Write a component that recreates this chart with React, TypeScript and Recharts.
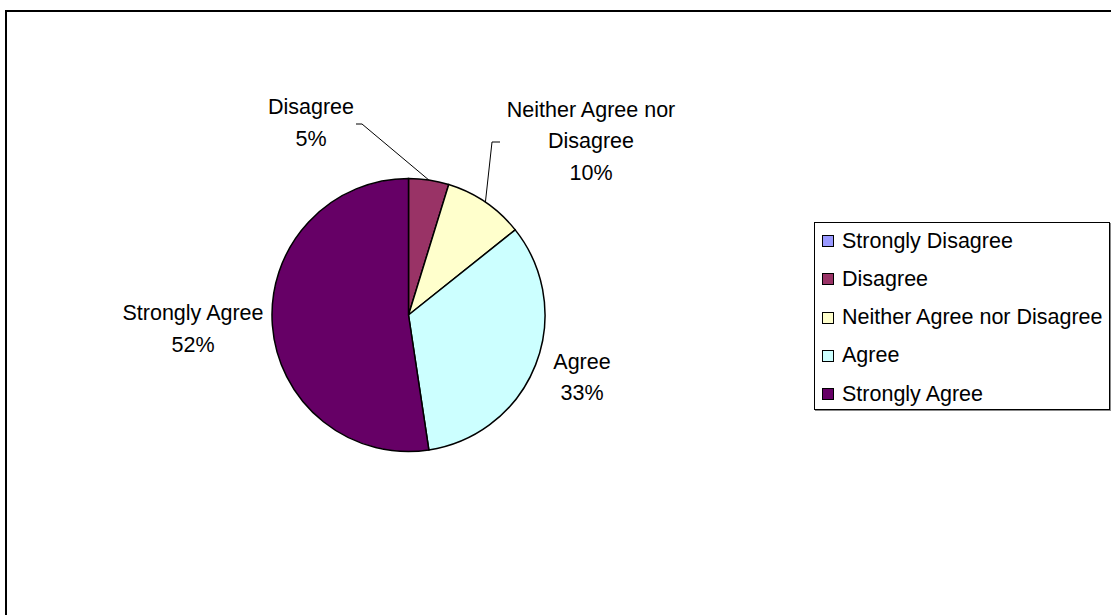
import React from 'react';
import { PieChart, Pie, Cell, Legend } from 'recharts';

const categories = ['Strongly Disagree', 'Disagree', 'Neither Agree nor Disagree', 'Agree', 'Strongly Agree'];
const responses = [0, 1, 2, 7, 11];
const colors = ['#9999FF', '#993366', '#FFFFCC', '#CCFFFF', '#660066'];

const data = categories.map((name, i) => ({ name, value: responses[i] }));

const FONT = '"Liberation Sans", Arial, sans-serif';
const FS = 21.5;
const LINE = 31.5;
const RAD = Math.PI / 180;

// label placement relative to pie centre (style/layout, not data)
const LABEL_LAYOUT: Record<string, { dx: number; dy: number; lines?: string[]; leader?: number[][] }> = {
  'Disagree': { dx: -97.5, dy: -192, leader: [[51, 1], [45, 1]] },
  'Neither Agree nor Disagree': { dx: 182.5, dy: -174, lines: ['Neither Agree nor', 'Disagree'], leader: [[-99, 1], [-91, 1]] },
  'Agree': { dx: 173.5, dy: 62.5 },
  'Strongly Agree': { dx: -215.5, dy: 14 },
};

const renderLabel = (props: any) => {
  const { cx, cy, midAngle, outerRadius, percent, name, value } = props;
  if (!value) return null;
  const lay = LABEL_LAYOUT[name];
  if (!lay) return null;
  const ax = cx + lay.dx;
  const ay = cy + lay.dy;
  const lines = [...(lay.lines || [name]), `${Math.round(percent * 100)}%`];
  const n = lines.length;
  let leader = null;
  if (lay.leader) {
    const ex = cx + outerRadius * Math.cos(-midAngle * RAD);
    const ey = cy + outerRadius * Math.sin(-midAngle * RAD);
    const pts = [[ex, ey], ...lay.leader.map(([x, y]) => [ax + x, ay + y])];
    leader = (
      <polyline points={pts.map((p) => p.join(',')).join(' ')} fill="none" stroke="#000" strokeWidth={1} />
    );
  }
  return (
    <g>
      {leader}
      {lines.map((t, i) => (
        <text
          key={i}
          x={ax}
          y={ay + (i - (n - 1) / 2) * LINE}
          textAnchor="middle"
          dominantBaseline="central"
          fontFamily={FONT}
          fontSize={FS}
          fill="#000"
        >
          {t}
        </text>
      ))}
    </g>
  );
};

const renderLegend = () => {
  return (
    <div
      style={{
        position: 'relative',
        width: 296,
        height: 188,
        boxSizing: 'border-box',
        border: '1px solid #000',
        boxShadow: '1px 1px 0 #888',
        background: '#fff',
      }}
    >
      {categories.map((name, i) => (
        <div
          key={name}
          style={{
            position: 'absolute',
            left: 7,
            top: 18 + i * 38.3 - 13,
            height: 26,
            display: 'flex',
            alignItems: 'center',
            fontFamily: FONT,
            fontSize: FS,
            color: '#000',
            whiteSpace: 'nowrap',
          }}
        >
          <span
            style={{
              display: 'inline-block',
              width: 10,
              height: 10,
              border: '1.5px solid #000',
              background: colors[i],
              marginRight: 8,
            }}
          />
          <span>{name}</span>
        </div>
      ))}
    </div>
  );
};

export default function App() {
  return (
    <div style={{ position: 'absolute', left: 0, top: 0, width: 1111, height: 615, overflow: 'hidden', background: '#fff' }}>
      <div
        style={{
          position: 'absolute',
          left: 5,
          top: 10,
          width: 1200,
          height: 700,
          borderTop: '2px solid #000',
          borderLeft: '2px solid #000',
          boxSizing: 'border-box',
        }}
      />
      <div style={{ position: 'absolute', left: 0, top: 0 }}>
        <PieChart width={1111} height={615} margin={{ top: 0, right: 0, bottom: 0, left: 0 }}>
          <Pie
            data={data}
            dataKey="value"
            nameKey="name"
            cx={408.5}
            cy={315}
            outerRadius={136.5}
            startAngle={90}
            endAngle={-270}
            stroke="#000"
            strokeWidth={1.5}
            label={renderLabel}
            labelLine={false}
            isAnimationActive={false}
          >
            {data.map((d, i) => (
              <Cell key={d.name} fill={colors[i]} />
            ))}
          </Pie>
          <Legend
            layout="vertical"
            align="right"
            verticalAlign="top"
            content={renderLegend}
            wrapperStyle={{ left: 814, top: 222, width: 296, height: 188 }}
          />
        </PieChart>
      </div>
    </div>
  );
}
